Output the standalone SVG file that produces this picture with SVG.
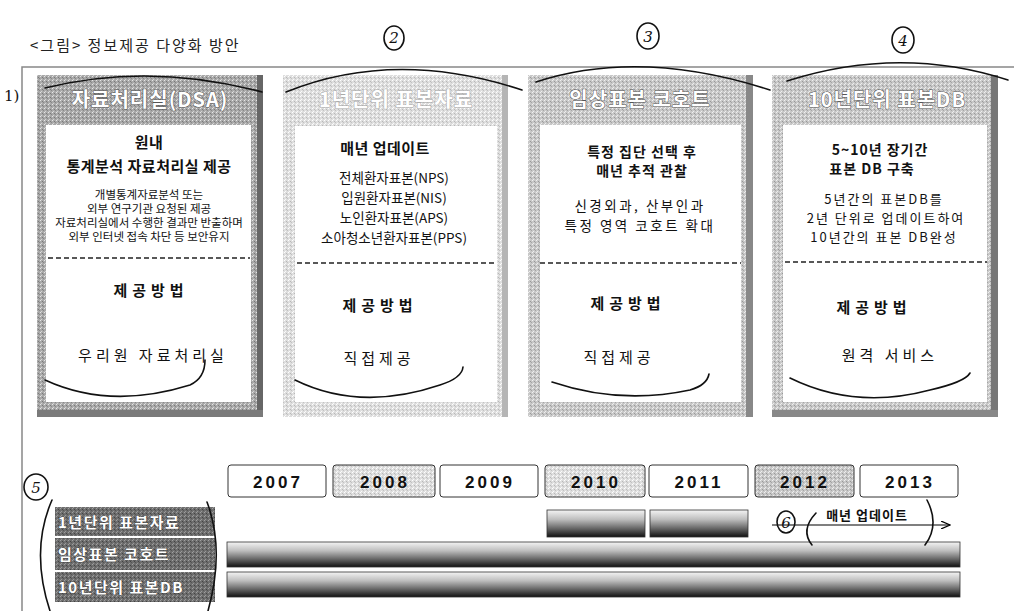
<svg xmlns="http://www.w3.org/2000/svg" width="1014" height="611" viewBox="0 0 1014 611">
<defs>
<pattern id="texDark" width="4" height="4" patternUnits="userSpaceOnUse">
<rect width="4" height="4" fill="#a9a9a9"/>
<rect x="0" y="0" width="1" height="1" fill="#e6e6e6"/>
<rect x="2" y="1" width="1" height="1" fill="#7a7a7a"/>
<rect x="1" y="3" width="1" height="1" fill="#d4d4d4"/>
<rect x="3" y="2" width="1" height="1" fill="#888"/>
</pattern>
<pattern id="texMid" width="4" height="4" patternUnits="userSpaceOnUse">
<rect width="4" height="4" fill="#c8c8c8"/>
<rect x="0" y="0" width="1" height="1" fill="#f0f0f0"/>
<rect x="2" y="1" width="1" height="1" fill="#999"/>
<rect x="1" y="3" width="1" height="1" fill="#eee"/>
<rect x="3" y="2" width="1" height="1" fill="#a5a5a5"/>
</pattern>
<pattern id="texLight" width="4" height="4" patternUnits="userSpaceOnUse">
<rect width="4" height="4" fill="#dedede"/>
<rect x="0" y="0" width="1" height="1" fill="#fff"/>
<rect x="2" y="1" width="1" height="1" fill="#b8b8b8"/>
<rect x="1" y="3" width="1" height="1" fill="#fafafa"/>
<rect x="3" y="2" width="1" height="1" fill="#c2c2c2"/>
</pattern>
<pattern id="texLabel" width="4" height="4" patternUnits="userSpaceOnUse">
<rect width="4" height="4" fill="#6e6e6e"/>
<rect x="0" y="0" width="1" height="1" fill="#a0a0a0"/>
<rect x="2" y="1" width="1" height="1" fill="#444"/>
<rect x="1" y="3" width="1" height="1" fill="#999"/>
<rect x="3" y="2" width="1" height="1" fill="#555"/>
</pattern>
<linearGradient id="barGrad" x1="0" y1="0" x2="0" y2="1">
<stop offset="0" stop-color="#f4f4f4"/>
<stop offset="0.35" stop-color="#bdbdbd"/>
<stop offset="0.75" stop-color="#555"/>
<stop offset="1" stop-color="#111"/>
</linearGradient>
<marker id="arrow" markerWidth="10" markerHeight="8" refX="9" refY="4" orient="auto" markerUnits="userSpaceOnUse">
<path d="M0,0 L9,4 L0,8" fill="none" stroke="#000" stroke-width="1.2"/>
</marker>
<style>
text{font-family:"Noto Sans CJK KR","Noto Sans",sans-serif;fill:#111;text-anchor:middle}
.title{font-size:15px;letter-spacing:2px;text-anchor:start;fill:#222}
.hdr{font-size:20px;font-weight:bold;letter-spacing:1px;fill:#fff;stroke:#555;stroke-width:1;paint-order:stroke}
.hdrL{font-size:20px;font-weight:bold;letter-spacing:1px;fill:#fff;stroke:#aaa;stroke-width:1;paint-order:stroke}
.b{font-size:15px;font-weight:bold;letter-spacing:0.5px}
.b2{font-size:14px;font-weight:bold;letter-spacing:1px}
.m{font-size:13.5px}
.c3{font-size:13.5px;letter-spacing:2.5px}
.c4{font-size:13px;letter-spacing:2px}
.s{font-size:11.5px}
.meth{font-size:15px;font-weight:bold;letter-spacing:5px}
.how{font-size:15px;letter-spacing:4px}
.yr{font-size:17px;font-weight:bold;letter-spacing:3px;font-family:"Liberation Sans",Arial,sans-serif}
.lbl{font-size:15px;font-weight:bold;letter-spacing:1.5px;fill:#fff;stroke:#333;stroke-width:0.6;paint-order:stroke;text-anchor:start}
.hand{fill:none;stroke:#111;stroke-width:1.6;stroke-linecap:round}
.hnum{font-family:"DejaVu Serif",serif;font-style:italic;font-size:15px}
.dash{stroke:#222;stroke-width:1.4;stroke-dasharray:5 3}
.inner{fill:#fff}
.year{stroke:#333;stroke-width:1}
.bar{fill:url(#barGrad);stroke:#333;stroke-width:0.8}
</style>
</defs>
<rect width="1014" height="611" fill="#fff"/>

<text class="title" x="30" y="51">&lt;그림&gt; 정보제공 다양화 방안</text>

<g id="frame">
<path d="M22,611 L22,67 L1014,67" fill="none" stroke="#888" stroke-width="1.5"/>
</g>

<g id="col1">
<rect x="37" y="75" width="226" height="342" fill="url(#texDark)"/>
<rect x="257" y="75" width="6" height="342" fill="#666"/>
<rect x="37" y="410" width="226" height="7" fill="#7a7a7a"/>
<rect class="inner" x="46" y="125" width="205" height="277"/>
<text class="hdr" x="150" y="107">자료처리실(DSA)</text>
<text class="b" x="149" y="148">원내</text>
<text class="b" x="149" y="172">통계분석 자료처리실 제공</text>
<text class="s" x="149" y="199">개별통계자료분석 또는</text>
<text class="s" x="149" y="213">외부 연구기관 요청된 제공</text>
<text class="s" x="149" y="227">자료처리실에서 수행한 결과만 반출하며</text>
<text class="s" x="149" y="241">외부 인터넷 접속 차단 등 보안유지</text>
<line class="dash" x1="48" y1="258" x2="250" y2="258"/>
<text class="meth" x="151" y="296">제공방법</text>
<text class="how" x="153" y="361">우리원 자료처리실</text>
</g>

<g id="col2">
<rect x="283" y="75" width="225" height="342" fill="url(#texLight)"/>
<rect x="502" y="75" width="6" height="342" fill="#b5b5b5"/>
<rect class="inner" x="295" y="126" width="202" height="276"/>
<text class="hdrL" x="396" y="107">1년단위 표본자료</text>
<text class="b" x="385" y="154">매년 업데이트</text>
<text class="m" x="394" y="183">전체환자표본(NPS)</text>
<text class="m" x="394" y="203">입원환자표본(NIS)</text>
<text class="m" x="394" y="223">노인환자표본(APS)</text>
<text class="m" x="394" y="243">소아청소년환자표본(PPS)</text>
<line class="dash" x1="297" y1="263" x2="497" y2="263" stroke-dasharray="3 4" stroke="#666"/>
<text class="meth" x="380" y="311">제공방법</text>
<text class="how" x="379" y="364">직접제공</text>
</g>

<g id="col3">
<rect x="528" y="75" width="225" height="342" fill="url(#texMid)"/>
<rect x="746" y="75" width="7" height="342" fill="#888"/>
<rect class="inner" x="540" y="125" width="201" height="277"/>
<text class="hdr" x="640" y="107">임상표본 코호트</text>
<text class="b2" x="642" y="157">특정 집단 선택 후</text>
<text class="b2" x="642" y="176">매년 추적 관찰</text>
<text class="c3" x="640" y="211">신경외과, 산부인과</text>
<text class="c3" x="640" y="231">특정 영역 코호트 확대</text>
<line class="dash" x1="540" y1="263" x2="741" y2="263"/>
<text class="meth" x="628" y="309">제공방법</text>
<text class="how" x="619" y="363">직접제공</text>
</g>

<g id="col4">
<rect x="772" y="75" width="226" height="342" fill="url(#texMid)"/>
<rect x="991" y="75" width="7" height="342" fill="#777"/>
<rect x="772" y="410" width="226" height="7" fill="#888"/>
<rect class="inner" x="783" y="125" width="204" height="277"/>
<text class="hdr" x="887" y="107">10년단위 표본DB</text>
<text class="b2" x="880" y="155">5~10년 장기간</text>
<text class="b2" x="872" y="174">표본 DB 구축</text>
<text class="c4" x="884" y="204">5년간의 표본DB를</text>
<text class="c4" x="886" y="223">2년 단위로 업데이트하여</text>
<text class="c4" x="884" y="242">10년간의 표본 DB완성</text>
<line class="dash" x1="785" y1="262" x2="987" y2="262"/>
<text class="meth" x="874" y="313">제공방법</text>
<text class="how" x="890" y="361">원격 서비스</text>
</g>

<g id="years">
<rect class="year" x="228" y="465" width="98" height="32" rx="3" fill="#fff"/>
<text class="yr" x="278" y="488">2007</text>
<rect class="year" x="333" y="465" width="102" height="32" rx="3" fill="url(#texLight)"/>
<text class="yr" x="385" y="488">2008</text>
<rect class="year" x="440" y="465" width="98" height="32" rx="3" fill="#fff"/>
<text class="yr" x="490" y="488">2009</text>
<rect class="year" x="545" y="465" width="100" height="32" rx="3" fill="url(#texLight)"/>
<text class="yr" x="596" y="488">2010</text>
<rect class="year" x="649" y="465" width="99" height="32" rx="3" fill="#fff"/>
<text class="yr" x="699" y="488">2011</text>
<rect class="year" x="755" y="465" width="99" height="32" rx="3" fill="url(#texMid)"/>
<text class="yr" x="805" y="488">2012</text>
<rect class="year" x="860" y="465" width="98" height="32" rx="3" fill="#fff"/>
<text class="yr" x="910" y="488">2013</text>
</g>

<g id="labels">
<rect x="55" y="507" width="160" height="95" fill="url(#texLabel)"/>
<line x1="55" y1="537" x2="215" y2="537" stroke="#fff" stroke-width="2"/>
<line x1="55" y1="571" x2="215" y2="571" stroke="#fff" stroke-width="2"/>
<text class="lbl" x="58" y="528">1년단위 표본자료</text>
<text class="lbl" x="58" y="560">임상표본 코호트</text>
<text class="lbl" x="58" y="593">10년단위 표본DB</text>
</g>

<g id="bars">
<rect class="bar" x="547" y="510" width="98" height="27"/>
<rect class="bar" x="650" y="510" width="98" height="27"/>
<rect class="bar" x="227" y="542" width="733" height="25"/>
<rect class="bar" x="227" y="572" width="733" height="25"/>
</g>

<g id="connectors">
<line x1="772" y1="525" x2="950" y2="525" stroke="#000" stroke-width="1.2" marker-end="url(#arrow)"/>
</g>
<g id="update-note">
<text x="867" y="520" style="font-size:13px;font-weight:bold;letter-spacing:1px">매년 업데이트</text>
</g>

<g id="annotations">
<text class="hnum" x="4" y="101" style="font-style:normal;font-size:15px;text-anchor:start">1)</text>
<ellipse class="hand" cx="394" cy="38" rx="10" ry="12"/>
<text class="hnum" x="394" y="43">2</text>
<ellipse class="hand" cx="648" cy="36" rx="11" ry="13"/>
<text class="hnum" x="648" y="42">3</text>
<ellipse class="hand" cx="903" cy="40" rx="11" ry="13"/>
<text class="hnum" x="903" y="46">4</text>
<ellipse class="hand" cx="36" cy="487" rx="12" ry="13"/>
<text class="hnum" x="36" y="493">5</text>
<ellipse class="hand" cx="786" cy="522" rx="9" ry="11"/>
<text class="hnum" x="786" y="528">6</text>
<path class="hand" d="M45,88 Q150,62 262,92"/>
<path class="hand" d="M286,92 Q395,48 522,90"/>
<path class="hand" d="M536,82 Q640,48 770,90"/>
<path class="hand" d="M787,81 Q900,45 1008,80"/>
<path class="hand" d="M45,380 Q110,410 190,385 Q205,378 205,360"/>
<path class="hand" d="M295,380 Q360,412 440,385 Q462,378 463,367"/>
<path class="hand" d="M552,382 Q620,405 690,390 Q707,385 709,374"/>
<path class="hand" d="M790,378 Q855,410 930,390 Q965,382 970,373"/>
<path class="hand" d="M52,500 Q30,550 50,611"/>
<path class="hand" d="M207,502 Q225,550 208,611"/>
<path class="hand" d="M816,513 Q800,530 812,545"/>
<path class="hand" d="M927,500 Q940,525 925,545"/>
</g>
</svg>
